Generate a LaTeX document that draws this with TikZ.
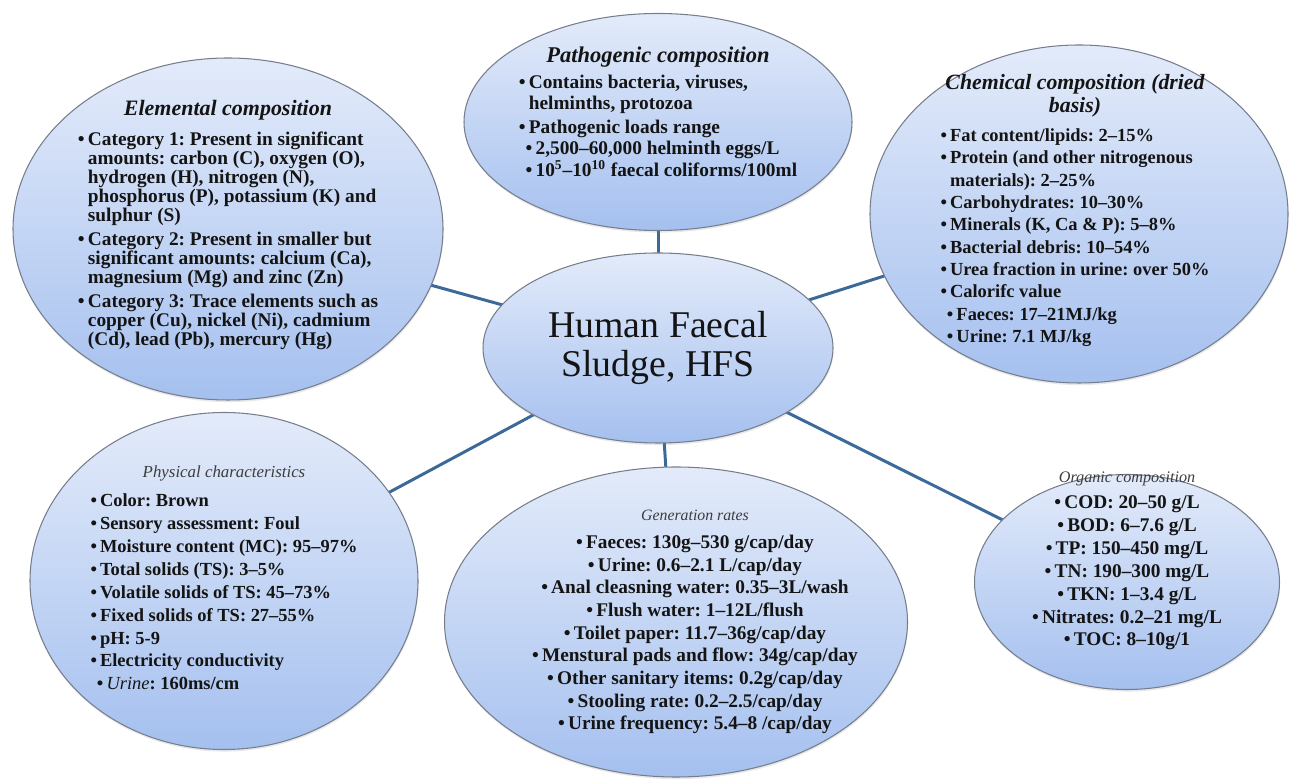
\documentclass[tikz,border=0pt]{standalone}
\usepackage{fontspec}
\setmainfont{Liberation Serif}
\usepackage{xcolor}
\usetikzlibrary{shapes.geometric,backgrounds,shadows}

\definecolor{bubbletop}{RGB}{227,235,250}
\definecolor{bubblebot}{RGB}{165,192,239}
\definecolor{linkblue}{RGB}{60,106,152}
\definecolor{rimgray}{RGB}{118,126,140}
\definecolor{titlegray}{RGB}{60,60,60}

\newcommand{\bu}{\textbullet\,}
\newcommand{\cnt}{\phantom{\textbullet\,}}
\newcommand{\sbu}{\hspace*{0.35em}\textbullet\,}
\frenchspacing

\begin{document}
\begin{tikzpicture}[
        bubble/.style={ellipse, draw=rimgray, line width=0.6pt, inner sep=0pt,
            top color=bubbletop, bottom color=bubblebot,
            drop shadow={opacity=0.18, shadow xshift=0.3pt, shadow yshift=-1.2pt}},
        link/.style={draw=linkblue, line width=1.7pt},
        txt/.style={align=center, text=black!92, inner sep=0pt}]
        \useasboundingbox (0,0) rectangle (25.8,15.62);

        % Bubbles
        \node[bubble, minimum width=7cm, minimum height=3.8cm] (hfs) at (13.16,8.66) {};
        \node[bubble, minimum width=8.6cm, minimum height=6.84cm] (elem) at (4.56,11.04) {};
        \node[bubble, minimum width=7.76cm, minimum height=4.34cm] (patho) at (13.16,13.18) {};
        \node[bubble, minimum width=8.36cm, minimum height=6.76cm] (chem) at (21.58,11.34) {};
        \node[bubble, minimum width=7.76cm, minimum height=6.74cm] (phys) at (4.48,4.0) {};
        \node[bubble, minimum width=9.26cm, minimum height=6.2cm] (gen) at (13.52,3.18) {};
        \node[bubble, minimum width=6.1cm, minimum height=4.3cm] (orga) at (22.54,3.98) {};

        % Links from the centre
        \begin{scope}[on background layer]
            \foreach \b in {elem,patho,chem,phys,gen,orga}
                \draw[link] (hfs.center) -- (\b.center);
        \end{scope}

        % Centre text
        \node[txt, font=\rmfamily\fontsize{21.5}{22}\selectfont] (hfstxt) at (hfs) {Human Faecal\\Sludge, HFS};

        % Elemental composition
        \node[txt, font=\bfseries\fontsize{11}{10.8}\selectfont] (elemtxt) at ([yshift=0.06cm]elem.center) {%
            {\fontsize{12.5}{14}\selectfont\itshape Elemental composition}\\[6pt]
            \begin{tabular}[t]{@{}l@{}}
                \bu Category 1: Present in significant\\
                \cnt amounts: carbon (C), oxygen (O),\\
                \cnt hydrogen (H), nitrogen (N),\\
                \cnt phosphorus (P), potassium (K) and\\
                \cnt sulphur (S)\\[2.5pt]
                \bu Category 2: Present in smaller but\\
                \cnt significant amounts: calcium (Ca),\\
                \cnt magnesium (Mg) and zinc (Zn)\\[2.5pt]
                \bu Category 3: Trace elements such as\\
                \cnt copper (Cu), nickel (Ni), cadmium\\
                \cnt (Cd), lead (Pb), mercury (Hg)
            \end{tabular}};

        % Pathogenic composition
        \node[txt, font=\bfseries\fontsize{11}{12}\selectfont] (pathotxt) at ([yshift=0.14cm]patho.center) {%
            {\fontsize{12.8}{14}\selectfont\itshape Pathogenic composition}\\[3pt]
            \begin{tabular}[t]{@{}l@{}}
                \bu Contains bacteria, viruses,\\
                \cnt helminths, protozoa\\[1.5pt]
                \bu Pathogenic loads range\\
                \sbu 2,500–60,000 helminth eggs/L\\
                \sbu 10\textsuperscript{5}–10\textsuperscript{10} faecal coliforms/100ml
            \end{tabular}};

        % Chemical composition
        \node[txt, font=\bfseries\fontsize{10.5}{12.7}\selectfont] (chemtxt) at ([xshift=-0.08cm,yshift=0.04cm]chem.center) {%
            {\fontsize{12.4}{12.7}\selectfont\itshape Chemical composition (dried}\\
            {\fontsize{12.4}{12.7}\selectfont\itshape basis)}\\[4pt]
            \begin{tabular}[t]{@{}l@{}}
                \bu Fat content/lipids: 2–15\%\\
                \bu Protein (and other nitrogenous\\
                \cnt materials): 2–25\%\\
                \bu Carbohydrates: 10–30\%\\
                \bu Minerals (K, Ca \& P): 5–8\%\\
                \bu Bacterial debris: 10–54\%\\
                \bu Urea fraction in urine: over 50\%\\
                \bu Calorifc value\\
                \sbu Faeces: 17–21MJ/kg\\
                \sbu Urine: 7.1 MJ/kg
            \end{tabular}};

        % Physical characteristics
        \node[txt, font=\bfseries\fontsize{10.5}{13}\selectfont] (phystxt) at (phys.center) {%
            {\mdseries\itshape\color{titlegray}\fontsize{9.6}{13}\selectfont Physical characteristics}\\[4pt]
            \begin{tabular}[t]{@{}l@{}}
                \bu Color: Brown\\
                \bu Sensory assessment: Foul\\
                \bu Moisture content (MC): 95–97\%\\
                \bu Total solids (TS): 3–5\%\\
                \bu Volatile solids of TS: 45–73\%\\
                \bu Fixed solids of TS: 27–55\%\\
                \bu pH: 5-9\\
                \bu Electricity conductivity\\
                \sbu{\mdseries\itshape Urine}: 160ms/cm
            \end{tabular}};

        % Generation rates
        \node[txt, font=\bfseries\fontsize{11}{12.9}\selectfont] (gentxt) at ([xshift=0.38cm]gen.center) {%
            {\mdseries\itshape\color{titlegray}\fontsize{9}{12.9}\selectfont Generation rates}\\[3pt]
            \bu Faeces: 130g–530 g/cap/day\\
            \bu Urine: 0.6–2.1 L/cap/day\\
            \bu Anal cleasning water: 0.35–3L/wash\\
            \bu Flush water: 1–12L/flush\\
            \bu Toilet paper: 11.7–36g/cap/day\\
            \bu Menstural pads and flow: 34g/cap/day\\
            \bu Other sanitary items: 0.2g/cap/day\\
            \bu Stooling rate: 0.2–2.5/cap/day\\
            \bu Urine frequency: 5.4–8 /cap/day};

        % Organic composition
        \node[txt, font=\bfseries\fontsize{11}{13}\selectfont] (orgatxt) at ([yshift=0.42cm]orga.center) {%
            {\mdseries\itshape\color{titlegray}\fontsize{9.2}{13}\selectfont Organic composition}\\[2pt]
            \bu COD: 20–50 g/L\\
            \bu BOD: 6–7.6 g/L\\
            \bu TP: 150–450 mg/L\\
            \bu TN: 190–300 mg/L\\
            \bu TKN: 1–3.4 g/L\\
            \bu Nitrates: 0.2–21 mg/L\\
            \bu TOC: 8–10g/1};
    \end{tikzpicture}
\end{document}
